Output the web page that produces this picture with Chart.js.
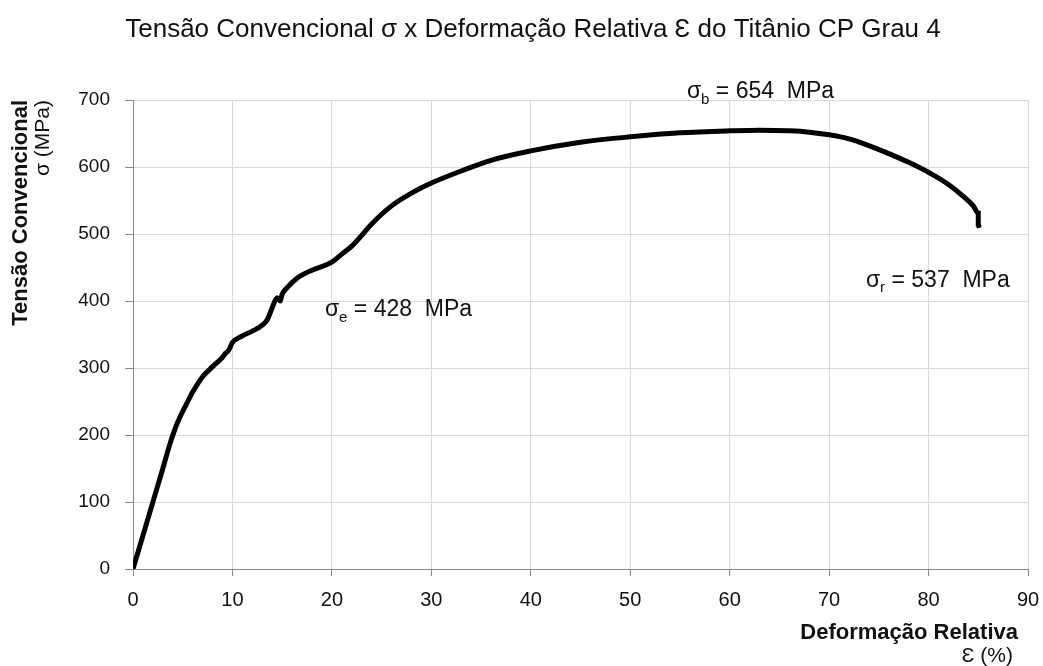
<!DOCTYPE html>
<html>
<head>
<meta charset="utf-8">
<script src="https://cdn.jsdelivr.net/npm/chart.js@4.4.1/dist/chart.umd.min.js"></script>
<style>
  html, body { margin: 0; padding: 0; background: #fff; }
  #wrap { width: 1043px; height: 666px; }
</style>
</head>
<body>
<div id="wrap"><canvas id="myChart" width="1043" height="666"></canvas></div>
<script>
// strain (%) and stress (MPa)
var strain = [0, 0.5, 1, 2, 3, 3.7, 4.2, 4.7, 5.3, 6, 7, 8, 9, 9.3, 9.6, 10, 11, 12, 13, 13.5, 14, 14.5, 14.8, 15, 15.5, 16.5, 18, 20, 21, 22, 23, 24, 26, 28, 30, 33, 36, 40, 45, 50, 55, 60, 63, 66, 68, 70, 72, 74, 76, 78, 80, 82, 83.5, 84.5, 85, 85, 85.1];
var stress = [0, 25, 50, 100, 150, 186, 208, 226, 244, 264, 287, 302, 316, 322, 326, 338, 348, 355, 364, 372, 390, 405, 400, 410, 420, 434, 446, 458, 470, 482, 498, 515, 542, 561, 576, 594, 610, 624, 637, 645, 651, 654, 655, 654, 652, 648, 642, 632, 620, 607, 592, 574, 556, 542, 531, 515, 509];

var xTicks = [0, 10, 20, 30, 40, 50, 60, 70, 80, 90];
var yTicks = [0, 100, 200, 300, 400, 500, 600, 700];

var title = 'Tensão Convencional σ x Deformação Relativa Ɛ do Titânio CP Grau 4';

// labels: [symbol, subscript, rest, x, y]
var notes = [
  ['σ', 'b', ' = 654  MPa', 55.7, 712],
  ['σ', 'e', ' = 428  MPa', 19.3, 387],
  ['σ', 'r', ' = 537  MPa', 73.7, 431]
];

var FONT = '"Liberation Sans", Arial, sans-serif';

var extras = {
  id: 'extras',
  afterDraw: function(chart) {
    var ctx = chart.ctx;
    var xs = chart.scales.x, ys = chart.scales.y;
    ctx.save();
    ctx.fillStyle = '#111';
    ctx.textBaseline = 'middle';

    // title
    ctx.textAlign = 'center';
    ctx.font = '26px ' + FONT;
    ctx.fillText(title, 533, 30);

    // point labels
    notes.forEach(function(n) {
      var px = xs.getPixelForValue(n[3]);
      var py = ys.getPixelForValue(n[4]);
      ctx.textAlign = 'left';
      ctx.font = '23px ' + FONT;
      ctx.fillText(n[0], px, py);
      px += ctx.measureText(n[0]).width;
      ctx.font = '15px ' + FONT;
      ctx.fillText(n[1], px, py + 8);
      px += ctx.measureText(n[1]).width;
      ctx.font = '23px ' + FONT;
      ctx.fillText(n[2], px, py);
    });

    // y axis title
    ctx.save();
    ctx.translate(21, chart.chartArea.top);
    ctx.rotate(-Math.PI / 2);
    ctx.textAlign = 'right';
    ctx.font = 'bold 22px ' + FONT;
    ctx.fillText('Tensão Convencional', 0, 0);
    ctx.font = '21px ' + FONT;
    ctx.fillText('σ (MPa)', 0, 22);
    ctx.restore();

    // x axis title
    ctx.textAlign = 'right';
    ctx.font = 'bold 22px ' + FONT;
    ctx.fillText('Deformação Relativa', 1018, 633);
    ctx.font = '21px ' + FONT;
    ctx.fillText('Ɛ (%)', 1013, 656);
    ctx.restore();
  }
};

var points = strain.map(function(v, i) { return { x: v, y: stress[i] }; });

var ctx = document.getElementById('myChart').getContext('2d');
var chart = new Chart(ctx, {
  type: 'scatter',
  data: {
    datasets: [{
      data: points,
      showLine: true,
      borderColor: '#000',
      borderWidth: 5,
      pointRadius: 0,
      cubicInterpolationMode: 'monotone',
      fill: false
    }]
  },
  options: {
    responsive: false,
    animation: false,
    layout: { padding: { left: 0, right: 15, top: 100, bottom: 0 } },
    plugins: {
      legend: { display: false },
      tooltip: { enabled: false },
      title: { display: false }
    },
    scales: {
      x: {
        type: 'linear',
        min: 0,
        max: 90,
        afterFit: function(s) { s.height = 97; s.paddingLeft = 0; s.paddingRight = 0; },
        afterBuildTicks: function(s) { s.ticks = xTicks.map(function(v) { return { value: v }; }); },
        grid: { color: '#d9d9d9', tickColor: '#888', tickLength: 7 },
        border: { color: '#888' },
        ticks: { color: '#111', padding: 12, maxRotation: 0, font: { family: FONT, size: 20 } }
      },
      y: {
        min: 0,
        max: 700,
        afterFit: function(s) { s.width = 133; s.paddingTop = 0; s.paddingBottom = 0; },
        afterBuildTicks: function(s) { s.ticks = yTicks.map(function(v) { return { value: v }; }); },
        grid: { color: '#d9d9d9', tickColor: '#888', tickLength: 8 },
        border: { color: '#888' },
        ticks: { color: '#111', padding: 15, font: { family: FONT, size: 19 } }
      }
    }
  },
  plugins: [extras]
});
</script>
</body>
</html>
